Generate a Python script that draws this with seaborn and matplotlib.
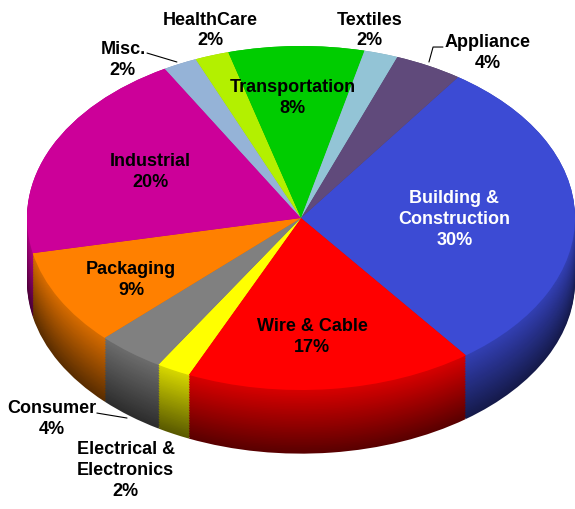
import numpy as np
import matplotlib
matplotlib.use("Agg")
import matplotlib.pyplot as plt
import matplotlib.colors as mcolors
from matplotlib import font_manager as fm
import seaborn as sns

# ---------------------------------------------------------------------------
# Data (market share by end use), in clockwise order starting at upper right
# ---------------------------------------------------------------------------
segments = ["Building &\nConstruction", "Wire & Cable", "Electrical &\nElectronics",
            "Consumer", "Packaging", "Industrial", "Misc.", "HealthCare",
            "Transportation", "Textiles", "Appliance"]
shares = [30, 17, 2, 4, 9, 20, 2, 2, 8, 2, 4]
colors = ["#3c4bd4", "#ff0000", "#ffff00", "#808080", "#ff8000", "#cc0099",
          "#95b3d7", "#b3f000", "#00cc00", "#93c4d6", "#604a7b"]

sns.set_theme(style="white")

# prefer a narrow bold face if one is installed
available = {f.name for f in fm.fontManager.ttflist}
narrow = [n for n in ["Liberation Sans Narrow", "DejaVu Sans Condensed"] if n in available]
if narrow:
    plt.rcParams["font.family"] = [narrow[0], "DejaVu Sans"]
    fsize, lsp = 15.5, 1.1
else:
    plt.rcParams["font.family"] = ["Liberation Sans", "DejaVu Sans"]
    fsize, lsp = 13, 1.3

fig = plt.figure(figsize=(5.75, 5.09), dpi=100)
ax = fig.add_axes([0, 0, 1, 1])

start = 55
depth = 0.37
n_layers = 40

# side of the "3D" pie: stacked pies, darker toward the bottom
for k in range(n_layers):
    f = 0.35 + 0.5 * k / (n_layers - 1)
    shade = [tuple(np.array(mcolors.to_rgb(c)) * f) for c in colors]
    off = depth * (1 - k / (n_layers - 1))
    ax.pie(shares, colors=shade, startangle=start, counterclock=False,
           center=(0, -off), radius=1, wedgeprops=dict(linewidth=0))

# top face
wedges, _ = ax.pie(shares, colors=colors, startangle=start, counterclock=False,
                   center=(0, 0), radius=1, wedgeprops=dict(linewidth=0))

# squash into an ellipse
ax.set_aspect("auto")
ax.set_xlim(-301 / 274, 274 / 274)
ax.set_ylim(-(509 - 218) / 172, 218 / 172)
ax.axis("off")

# labels
label_pos = {
    "Building &\nConstruction": (0.56, -0.01),
    "Wire & Cable": (0.04, -0.69),
    "Electrical &\nElectronics": (-0.64, -1.47),
    "Consumer": (-0.91, -1.17),
    "Packaging": (-0.62, -0.36),
    "Industrial": (-0.55, 0.27),
    "Misc.": (-0.65, 0.92),
    "HealthCare": (-0.33, 1.09),
    "Transportation": (-0.03, 0.70),
    "Textiles": (0.25, 1.09),
    "Appliance": (0.68, 0.96),
}
for name, pct in zip(segments, shares):
    x, y = label_pos[name]
    col = "white" if name.startswith("Building") else "black"
    ax.text(x, y, f"{name}\n{pct}%", ha="center", va="center", color=col,
            fontsize=fsize, fontweight="bold", linespacing=lsp)

# leader lines
ax.plot([-0.562, -0.453], [0.959, 0.907], color="black", lw=0.8)
ax.plot([0.467, 0.482, 0.518], [0.907, 0.994, 0.994], color="black", lw=0.8)
ax.plot([-0.745, -0.635], [-1.134, -1.163], color="black", lw=0.8)

fig.savefig("out.png", dpi=100)
